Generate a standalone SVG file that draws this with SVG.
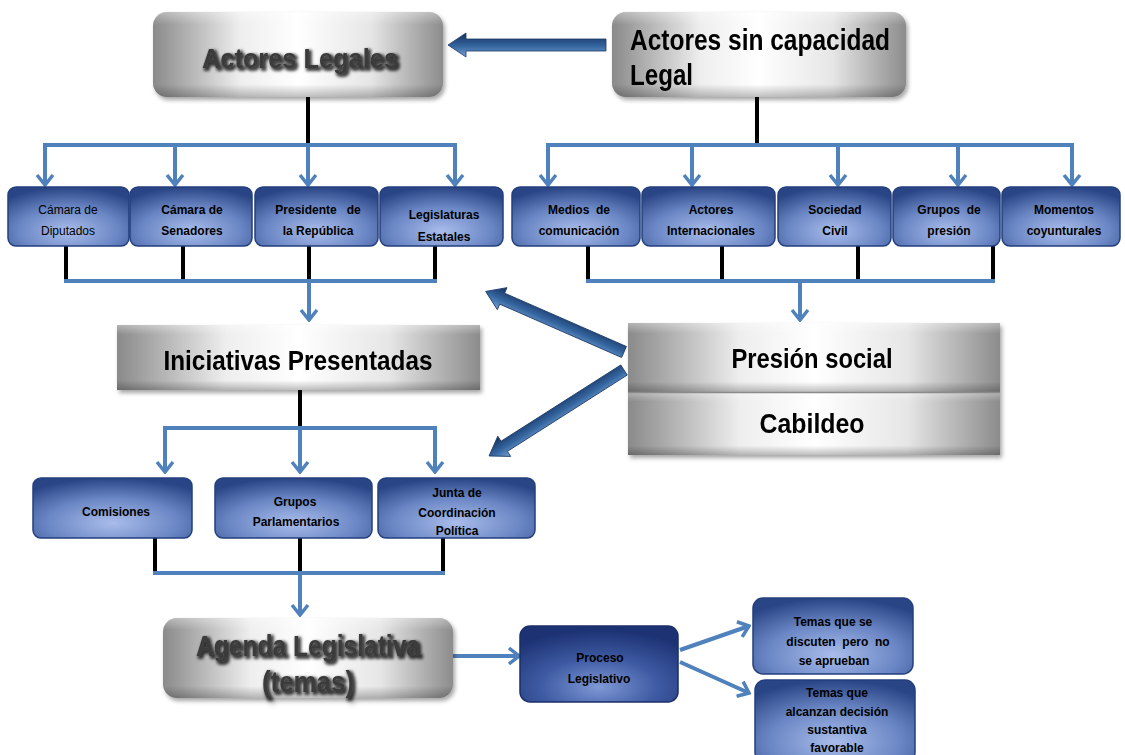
<svg xmlns="http://www.w3.org/2000/svg" width="1125" height="755" viewBox="0 0 1125 755">
<defs>
<style>
.t{font-family:"Liberation Sans",Arial,sans-serif;font-weight:bold;fill:#000;text-anchor:middle}
.s{font-size:12px}
.blk{stroke:#000;stroke-width:4;fill:none}
.blu{stroke:#4f81bd;stroke-width:4;fill:none}
.arr{marker-end:url(#chev)}
.bb{fill:url(#blueG);stroke:#243f7d;stroke-width:1.5}
.bd{fill:url(#blueD);stroke:#1b2f66;stroke-width:1.5}
.gb{fill:url(#grayH)}
.gv{fill:url(#grayV)}
.thick{fill:url(#arrG);stroke:#1a3866;stroke-width:0.8}
</style>
<linearGradient id="grayH" x1="0" y1="0" x2="1" y2="0">
<stop offset="0" stop-color="#8a8a8a"/>
<stop offset="0.3" stop-color="#eeeeee"/>
<stop offset="0.5" stop-color="#ffffff"/>
<stop offset="0.75" stop-color="#e6e6e6"/>
<stop offset="1" stop-color="#8c8c8c"/>
</linearGradient>
<linearGradient id="grayV" x1="0" y1="0" x2="0" y2="1">
<stop offset="0" stop-color="#fff" stop-opacity="0.35"/>
<stop offset="0.15" stop-color="#fff" stop-opacity="0"/>
<stop offset="0.85" stop-color="#000" stop-opacity="0"/>
<stop offset="1" stop-color="#000" stop-opacity="0.25"/>
</linearGradient>
<radialGradient id="blueG" cx="0.5" cy="0.75" r="0.75">
<stop offset="0" stop-color="#a9bdeb"/>
<stop offset="0.55" stop-color="#6a86c4"/>
<stop offset="1" stop-color="#2a4585"/>
</radialGradient>
<radialGradient id="blueD" cx="0.5" cy="0.8" r="0.75">
<stop offset="0" stop-color="#7f99d6"/>
<stop offset="0.5" stop-color="#3e5aa2"/>
<stop offset="1" stop-color="#1c3273"/>
</radialGradient>
<linearGradient id="arrG" x1="0" y1="0" x2="0" y2="1">
<stop offset="0" stop-color="#7aa3d4"/>
<stop offset="0.45" stop-color="#3566a0"/>
<stop offset="1" stop-color="#142f5c"/>
</linearGradient>
<filter id="sh" x="-10%" y="-10%" width="130%" height="140%">
<feDropShadow dx="2" dy="3" stdDeviation="2" flood-color="#000" flood-opacity="0.35"/>
</filter>
<filter id="tsh" x="-10%" y="-30%" width="120%" height="160%">
<feMorphology in="SourceAlpha" operator="dilate" radius="1.2" result="d"/>
<feGaussianBlur in="d" stdDeviation="1.5" result="b"/>
<feOffset in="b" dx="1.5" dy="1.5" result="o"/>
<feFlood flood-color="#000" flood-opacity="0.75"/>
<feComposite in2="o" operator="in" result="s"/>
<feMerge><feMergeNode in="s"/><feMergeNode in="SourceGraphic"/></feMerge>
</filter>
<marker id="chev" viewBox="-13 -10 15 20" refX="0" refY="0" markerWidth="15" markerHeight="20" markerUnits="userSpaceOnUse" orient="auto">
<path d="M-10,-8 L0,0 L-10,8" fill="none" stroke="#4f81bd" stroke-width="3.5"/>
</marker>
</defs>
<rect width="1125" height="755" fill="#fff"/>

<g id="connectors">
<line class="blk" x1="308" y1="97" x2="308" y2="147"/>
<line class="blu" x1="43" y1="145" x2="457" y2="145"/>
<path class="blu arr" d="M45,145 V185"/>
<path class="blu arr" d="M175,145 V185"/>
<path class="blu arr" d="M308,145 V185"/>
<path class="blu arr" d="M455,145 V185"/>
<line class="blk" x1="757" y1="97" x2="757" y2="147"/>
<line class="blu" x1="546" y1="145" x2="1074" y2="145"/>
<path class="blu arr" d="M548,145 V185"/>
<path class="blu arr" d="M692,145 V185"/>
<path class="blu arr" d="M838,145 V185"/>
<path class="blu arr" d="M958,145 V185"/>
<path class="blu arr" d="M1072,145 V185"/>

<path class="blk" d="M66,246 V281 M183,246 V279 M309,246 V281 M435,246 V281"/>
<line class="blu" x1="64" y1="281" x2="437" y2="281"/>
<path class="blu arr" d="M309,281 V320"/>
<path class="blk" d="M588,246 V281 M722,246 V279 M858,246 V279 M993,246 V279"/>
<line class="blu" x1="586" y1="281" x2="995" y2="281"/>
<path class="blu arr" d="M800,281 V320"/>

<line class="blk" x1="300" y1="390" x2="300" y2="430"/>
<line class="blu" x1="163" y1="428" x2="437" y2="428"/>
<path class="blu arr" d="M165,428 V472"/>
<path class="blu arr" d="M300,428 V472"/>
<path class="blu arr" d="M435,428 V472"/>

<path class="blk" d="M155,538 V573 M300,538 V573 M443,538 V573"/>
<line class="blu" x1="153" y1="573" x2="445" y2="573"/>
<path class="blu arr" d="M300,573 V615"/>

<path class="blu arr" d="M453,656 H519"/>
<path class="blu arr" d="M680,650 L749,626"/>
<path class="blu arr" d="M680,662 L749,693"/>

<g transform="translate(606,45) rotate(180)"><polygon class="thick" points="0,-6 140,-6 140,-12 158,0 140,12 140,6 0,6"/></g>
<g transform="translate(624,352) rotate(-156.35)"><polygon class="thick" points="0,-6 133,-6 133,-12 151,0 133,12 133,6 0,6"/></g>
<g transform="translate(624,370) rotate(147.5)"><polygon class="thick" points="0,-6 142,-6 142,-12 160,0 142,12 142,6 0,6"/></g>
</g>

<g id="actores-legales" filter="url(#sh)">
<rect class="gb" x="153" y="12" width="290" height="85" rx="14"/>
<rect class="gv" x="153" y="12" width="290" height="85" rx="14"/>
<text class="t" x="300" y="68" font-size="28" style="fill:#3a3a3a" filter="url(#tsh)" textLength="196" lengthAdjust="spacingAndGlyphs">Actores  Legales</text>
</g>

<g id="actores-sin-capacidad" filter="url(#sh)">
<rect class="gb" x="612" y="12" width="294" height="85" rx="14"/>
<rect class="gv" x="612" y="12" width="294" height="85" rx="14"/>
<text class="t" x="630" y="50" font-size="29" style="text-anchor:start" textLength="260" lengthAdjust="spacingAndGlyphs">Actores sin capacidad</text>
<text class="t" x="630" y="85" font-size="29" style="text-anchor:start" textLength="63" lengthAdjust="spacingAndGlyphs">Legal</text>
</g>

<g id="camara-diputados"><rect class="bb" x="8" y="187" width="121" height="59" rx="8"/>
<text class="t s" x="68" y="214" style="font-weight:normal">Cámara de</text><text class="t s" x="68" y="235" style="font-weight:normal">Diputados</text></g>
<g id="camara-senadores"><rect class="bb" x="130" y="187" width="122" height="59" rx="8"/>
<text class="t s" x="192" y="214">Cámara de</text><text class="t s" x="192" y="235">Senadores</text></g>
<g id="presidente"><rect class="bb" x="255" y="187" width="123" height="59" rx="8"/>
<text class="t s" x="318" y="214" xml:space="preserve">Presidente   de</text><text class="t s" x="318" y="235">la República</text></g>
<g id="legislaturas"><rect class="bb" x="380" y="187" width="123" height="59" rx="8"/>
<text class="t s" x="444" y="219">Legislaturas</text><text class="t s" x="444" y="241">Estatales</text></g>
<g id="medios"><rect class="bb" x="512" y="187" width="128" height="59" rx="8"/>
<text class="t s" x="579" y="214" xml:space="preserve">Medios  de</text><text class="t s" x="579" y="235">comunicación</text></g>
<g id="actores-internacionales"><rect class="bb" x="642" y="187" width="133" height="59" rx="8"/>
<text class="t s" x="711" y="214">Actores</text><text class="t s" x="711" y="235">Internacionales</text></g>
<g id="sociedad-civil"><rect class="bb" x="778" y="187" width="113" height="59" rx="8"/>
<text class="t s" x="835" y="214">Sociedad</text><text class="t s" x="835" y="235">Civil</text></g>
<g id="grupos-presion"><rect class="bb" x="893" y="187" width="107" height="59" rx="8"/>
<text class="t s" x="949" y="214" xml:space="preserve">Grupos  de</text><text class="t s" x="949" y="235">presión</text></g>
<g id="momentos"><rect class="bb" x="1002" y="187" width="118" height="59" rx="8"/>
<text class="t s" x="1064" y="214">Momentos</text><text class="t s" x="1064" y="235">coyunturales</text></g>

<g id="iniciativas" filter="url(#sh)">
<rect class="gb" x="117" y="325" width="363" height="65"/>
<rect class="gv" x="117" y="325" width="363" height="65"/>
<text class="t" x="298" y="370" font-size="27" textLength="269" lengthAdjust="spacingAndGlyphs">Iniciativas Presentadas</text>
</g>

<g id="presion-cabildeo" filter="url(#sh)">
<rect class="gb" x="628" y="323" width="372" height="69"/>
<rect class="gv" x="628" y="323" width="372" height="69"/>
<rect class="gb" x="628" y="392" width="372" height="63"/>
<rect class="gv" x="628" y="392" width="372" height="63"/>
<line x1="628" y1="392.5" x2="1000" y2="392.5" stroke="#8a8a8a" stroke-width="1.5"/>
<text class="t" x="812" y="368" font-size="27" textLength="161" lengthAdjust="spacingAndGlyphs">Presión social</text>
<text class="t" x="812" y="433" font-size="27" textLength="105" lengthAdjust="spacingAndGlyphs">Cabildeo</text>
</g>

<g id="comisiones"><rect class="bb" x="33" y="478" width="159" height="60" rx="8"/>
<text class="t s" x="116" y="516">Comisiones</text></g>
<g id="grupos-parlamentarios"><rect class="bb" x="215" y="478" width="157" height="60" rx="8"/>
<text class="t s" x="295" y="506">Grupos</text><text class="t s" x="296" y="526">Parlamentarios</text></g>
<g id="junta"><rect class="bb" x="378" y="478" width="157" height="60" rx="8"/>
<text class="t s" x="457" y="497">Junta de</text><text class="t s" x="457" y="517">Coordinación</text><text class="t s" x="457" y="535">Política</text></g>

<g id="agenda" filter="url(#sh)">
<rect class="gb" x="163" y="618" width="290" height="80" rx="14"/>
<rect class="gv" x="163" y="618" width="290" height="80" rx="14"/>
<text class="t" x="308" y="656" font-size="29" style="fill:#3a3a3a" filter="url(#tsh)" textLength="224" lengthAdjust="spacingAndGlyphs">Agenda Legislativa</text>
<text class="t" x="308" y="692" font-size="29" style="fill:#3a3a3a" filter="url(#tsh)" textLength="92" lengthAdjust="spacingAndGlyphs">(temas)</text>
</g>

<g id="proceso"><rect class="bd" x="520" y="626" width="158" height="76" rx="10"/>
<text class="t s" x="600" y="662">Proceso</text><text class="t s" x="599" y="683">Legislativo</text></g>

<g id="temas-no"><rect class="bb" x="753" y="598" width="160" height="76" rx="10"/>
<text class="t s" x="833" y="626">Temas que se</text><text class="t s" x="838" y="646" xml:space="preserve">discuten  pero  no</text><text class="t s" x="834" y="665">se aprueban</text></g>
<g id="temas-si"><rect class="bb" x="755" y="680" width="160" height="82" rx="10"/>
<text class="t s" x="837" y="697">Temas que</text><text class="t s" x="837" y="716">alcanzan decisión</text><text class="t s" x="837" y="734">sustantiva</text><text class="t s" x="837" y="752">favorable</text></g>
</svg>
